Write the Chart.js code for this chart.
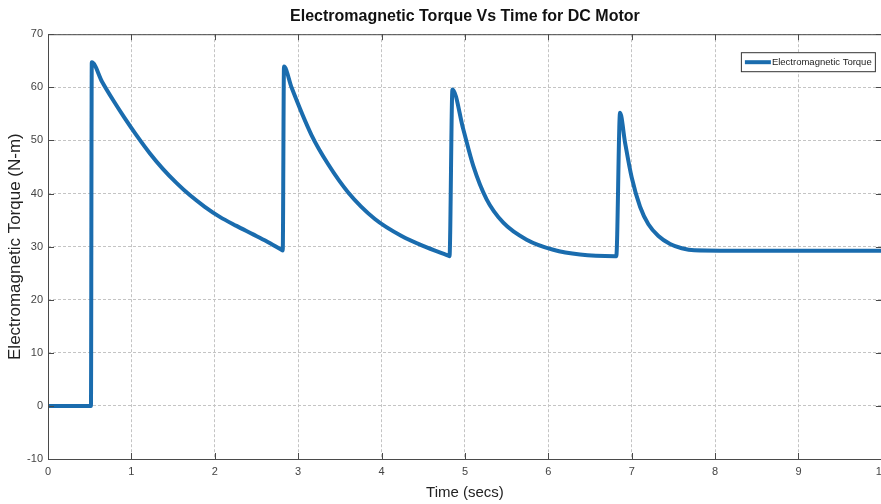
<!DOCTYPE html>
<html>
<head>
<meta charset="utf-8">
<script src="https://cdn.jsdelivr.net/npm/chart.js@4.4.1/dist/chart.umd.min.js"></script>
<style>
  html, body { margin: 0; padding: 0; background: #fff; overflow: hidden; width: 881px; height: 504px; }
  #wrap { width: 894px; height: 504px; }
</style>
</head>
<body>
<div id="wrap"><canvas id="myChart" width="894" height="504"></canvas></div>
<script>
'use strict';

// DATA
const seriesLabel = 'Electromagnetic Torque';
const time = [
  0, 0.515, 0.525, 0.65, 0.78, 0.92, 1.06, 1.22, 1.38, 1.54, 1.70, 1.88, 2.06, 2.26, 2.46, 2.62, 2.80,
  2.815, 2.83, 2.92, 3.16, 3.36, 3.60, 3.92, 4.24, 4.52, 4.80,
  4.815, 4.85, 4.98, 5.10, 5.26, 5.46, 5.74, 6.06, 6.38, 6.80,
  6.815, 6.86, 6.92, 7.00, 7.10, 7.20, 7.32, 7.46, 7.60, 7.75, 8.5, 10
];
const torque = [
  0, 0, 64.7, 61.0, 57.6, 54.2, 51.0, 47.6, 44.6, 42.0, 39.7, 37.5, 35.6, 33.9, 32.3, 31.0, 29.4,
  29.27, 63.9, 60.0, 51.0, 45.5, 40.2, 35.2, 32.0, 30.0, 28.3,
  28.2, 59.6, 52.1, 45.2, 38.9, 34.5, 31.3, 29.4, 28.5, 28.2,
  28.2, 55.2, 49.6, 43.0, 37.5, 34.2, 32.0, 30.5, 29.7, 29.3, 29.2, 29.2
];
const xTicks = [0, 1, 2, 3, 4, 5, 6, 7, 8, 9, 10];
const yTicks = [-10, 0, 10, 20, 30, 40, 50, 60, 70];

const lineColor = '#1a6cae';
const narrow = "'Liberation Sans Narrow', 'Liberation Sans', Arial, sans-serif";
const sans = "'Liberation Sans', Arial, sans-serif";

// box round the plot, inward ticks and the legend (matlab look)
const matlabAxes = {
  id: 'matlabAxes',
  afterDraw(chart) {
    const c = chart.ctx;
    const a = chart.chartArea;
    const xs = chart.scales.x, ys = chart.scales.y;
    c.save();
    c.strokeStyle = '#4a4a4a';
    c.lineWidth = 1;
    c.strokeRect(a.left + 0.5, a.top + 0.5, a.right - a.left, a.bottom - a.top);
    c.beginPath();
    xTicks.forEach(function(t) {
      const px = Math.round(xs.getPixelForValue(t)) + 0.5;
      c.moveTo(px, a.bottom); c.lineTo(px, a.bottom - 6);
      c.moveTo(px, a.top); c.lineTo(px, a.top + 6);
    });
    yTicks.forEach(function(t) {
      const py = Math.round(ys.getPixelForValue(t)) + 0.5;
      c.moveTo(a.left, py); c.lineTo(a.left + 6, py);
      c.moveTo(a.right, py); c.lineTo(a.right - 6, py);
    });
    c.stroke();

    // legend
    const bx = a.right - 141, by = a.top + 18, bw = 134, bh = 19;
    c.fillStyle = '#fff';
    c.fillRect(bx, by, bw, bh);
    c.strokeStyle = '#333';
    c.strokeRect(bx + 0.5, by + 0.5, bw, bh);
    c.strokeStyle = lineColor;
    c.lineWidth = 4;
    c.beginPath();
    c.moveTo(bx + 4, by + bh / 2 + 0.5);
    c.lineTo(bx + 30, by + bh / 2 + 0.5);
    c.stroke();
    c.fillStyle = '#222';
    c.font = "9.5px " + narrow;
    c.textBaseline = 'middle';
    c.fillText(chart.data.datasets[0].label, bx + 31, by + bh / 2 + 1);
    c.restore();
  }
};

const points = time.map(function(t, i) { return { x: t, y: torque[i] }; });

const ctx = document.getElementById('myChart').getContext('2d');

const chart = new Chart(ctx, {
  type: 'line',
  data: {
    datasets: [{
      label: seriesLabel,
      data: points,
      borderColor: lineColor,
      backgroundColor: lineColor,
      borderWidth: 4,
      pointRadius: 0,
      cubicInterpolationMode: 'monotone',
      borderJoinStyle: 'round',
      borderCapStyle: 'round',
      fill: false
    }]
  },
  options: {
    responsive: false,
    animation: false,
    plugins: {
      legend: { display: false },
      tooltip: { enabled: false },
      title: {
        display: true,
        text: 'Electromagnetic Torque Vs Time for DC Motor',
        color: '#111',
        fullSize: false,
        font: { family: sans, size: 16, weight: 'bold' },
        padding: { top: 7, bottom: 8 }
      }
    },
    scales: {
      x: {
        type: 'linear',
        min: 0,
        max: 10,
        afterBuildTicks: function(s) { s.ticks = xTicks.map(function(v) { return { value: v }; }); },
        afterFit: function(s) { s.height = 45; },
        border: { display: false, dash: [3, 2] },
        grid: { color: '#c4c4c4', drawTicks: false },
        ticks: {
          color: '#444',
          padding: 6,
          maxRotation: 0,
          font: { family: narrow, size: 11 }
        },
        title: {
          display: true,
          text: 'Time (secs)',
          color: '#222',
          font: { family: sans, size: 15 },
          padding: { top: 0, bottom: 2 }
        }
      },
      y: {
        min: -10,
        max: 70,
        afterBuildTicks: function(s) { s.ticks = yTicks.map(function(v) { return { value: v }; }); },
        afterFit: function(s) { s.width = 48; },
        border: { display: false, dash: [3, 2] },
        grid: { color: '#c4c4c4', drawTicks: false },
        ticks: {
          color: '#444',
          padding: 5,
          font: { family: narrow, size: 11 }
        },
        title: {
          display: true,
          text: 'Electromagnetic Torque (N-m)',
          color: '#222',
          font: { family: sans, size: 17 },
          padding: { top: 5, bottom: 0 }
        }
      }
    }
  },
  plugins: [matlabAxes]
});
</script>
</body>
</html>
